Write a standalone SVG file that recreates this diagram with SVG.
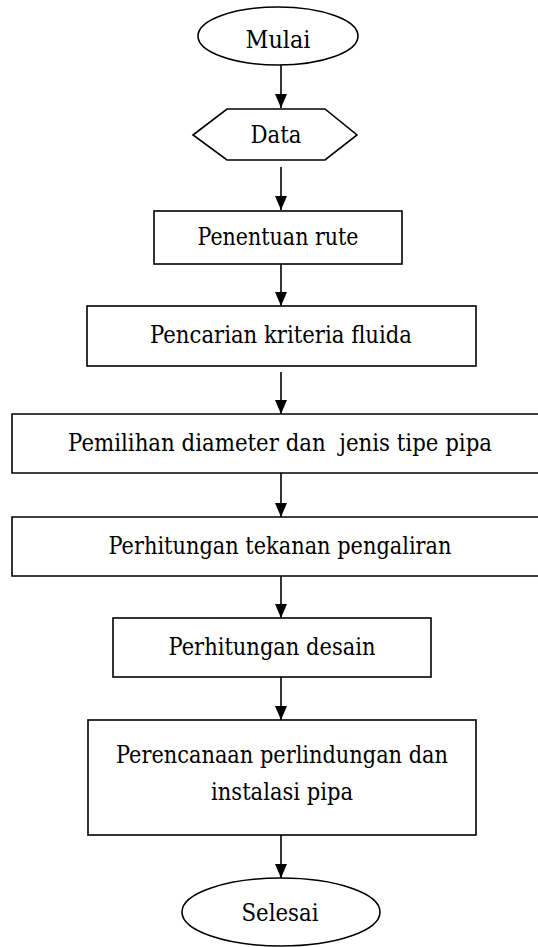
<svg xmlns="http://www.w3.org/2000/svg" width="538" height="947" viewBox="0 0 538 947">
<style>
.s{fill:#fff;stroke:#000;stroke-width:1.6}
.t{font-family:"DejaVu Serif","Liberation Serif","Times New Roman",serif;font-size:24px;fill:#000;text-anchor:middle}
.c{stroke:#000;stroke-width:1.6;fill:none}
</style>
<defs>
<marker id="ah" viewBox="0 0 14 12" refX="14" refY="6" markerWidth="14" markerHeight="12" markerUnits="userSpaceOnUse" orient="auto">
<path d="M0,0 L14,6 L0,12 z" fill="#000"/>
</marker>
</defs>
<rect width="538" height="947" fill="#fff"/>
<g id="connectors">
<line class="c" x1="281" y1="65" x2="281" y2="108" marker-end="url(#ah)"/>
<line class="c" x1="281" y1="167" x2="281" y2="210" marker-end="url(#ah)"/>
<line class="c" x1="281" y1="264" x2="281" y2="306" marker-end="url(#ah)"/>
<line class="c" x1="281" y1="372" x2="281" y2="414" marker-end="url(#ah)"/>
<line class="c" x1="281" y1="473" x2="281" y2="517" marker-end="url(#ah)"/>
<line class="c" x1="281" y1="576" x2="281" y2="618" marker-end="url(#ah)"/>
<line class="c" x1="281" y1="677" x2="281" y2="720" marker-end="url(#ah)"/>
<line class="c" x1="281" y1="835" x2="281" y2="878" marker-end="url(#ah)"/>
</g>
<g id="mulai">
<ellipse class="s" cx="278" cy="36" rx="80" ry="29"/>
<text class="t" x="278" y="48" textLength="65" lengthAdjust="spacingAndGlyphs">Mulai</text>
</g>
<g id="data">
<polygon class="s" points="193,135 227,109 325,109 357,135 325,160 227,160"/>
<text class="t" x="276" y="143" textLength="51" lengthAdjust="spacingAndGlyphs">Data</text>
</g>
<g id="penentuan">
<rect class="s" x="154" y="211" width="248" height="53"/>
<text class="t" x="278" y="245" textLength="161" lengthAdjust="spacingAndGlyphs">Penentuan rute</text>
</g>
<g id="pencarian">
<rect class="s" x="87" y="306" width="389" height="60"/>
<text class="t" x="281" y="343" textLength="262" lengthAdjust="spacingAndGlyphs">Pencarian kriteria fluida</text>
</g>
<g id="pemilihan">
<path class="s" d="M538,414 H12 V473 H538"/>
<text class="t" x="280" y="451" textLength="424" lengthAdjust="spacingAndGlyphs">Pemilihan diameter dan&#160; jenis tipe pipa</text>
</g>
<g id="tekanan">
<path class="s" d="M538,517 H12 V576 H538"/>
<text class="t" x="280" y="554" textLength="343" lengthAdjust="spacingAndGlyphs">Perhitungan tekanan pengaliran</text>
</g>
<g id="desain">
<rect class="s" x="113" y="618" width="318" height="59"/>
<text class="t" x="272" y="655" textLength="207" lengthAdjust="spacingAndGlyphs">Perhitungan desain</text>
</g>
<g id="perencanaan">
<rect class="s" x="88" y="720" width="388" height="115"/>
<text class="t" x="282" y="763" textLength="332" lengthAdjust="spacingAndGlyphs">Perencanaan perlindungan dan</text>
<text class="t" x="282" y="800" textLength="142" lengthAdjust="spacingAndGlyphs">instalasi pipa</text>
</g>
<g id="selesai">
<ellipse class="s" cx="281" cy="912" rx="99" ry="34"/>
<text class="t" x="280" y="921" textLength="77" lengthAdjust="spacingAndGlyphs">Selesai</text>
</g>
</svg>
